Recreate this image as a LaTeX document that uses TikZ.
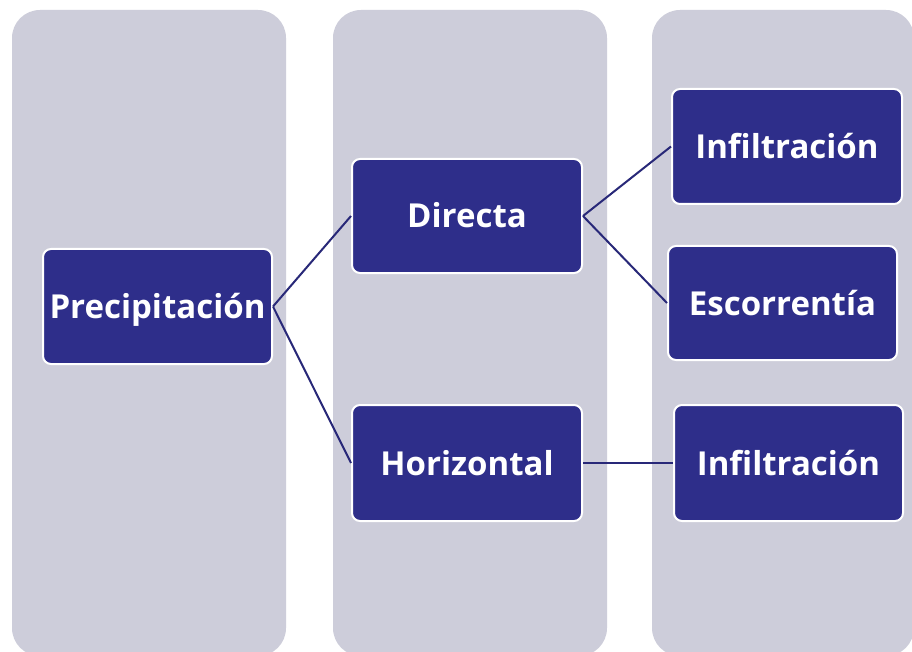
\documentclass[tikz,border=0pt]{standalone}
\usepackage{fontspec}
\setmainfont{Open Sans}
\definecolor{colbg}{RGB}{205,205,218}
\definecolor{boxfill}{RGB}{46,46,138}
\definecolor{linkc}{RGB}{40,40,120}
\tikzset{
  column/.style={fill=colbg, rounded corners=28pt},
  box/.style={fill=boxfill, draw=white, line width=2pt, rounded corners=8pt,
    minimum width=229pt, minimum height=115pt, text=white,
    font=\fontsize{33}{40}\selectfont\bfseries, text height=24pt, text depth=0pt,
    inner sep=0pt},
  link/.style={draw=linkc, line width=2pt}
}
\begin{document}
\begin{tikzpicture}[x=1pt,y=-1pt]
\useasboundingbox (0,0) rectangle (912,652);
\clip (0,0) rectangle (912,652);
\fill[white] (0,0) rectangle (912,652);
\fill[column] (12,10) rectangle (286,656);
\fill[column] (333,10) rectangle (607,656);
\fill[column] (652,10) rectangle (914,656);
\node[box] (p) at (157.5,306.5) {Precipitación};
\node[box, minimum width=230pt, minimum height=114pt] (d) at (467,216) {Directa};
\node[box, minimum width=230pt] (i1) at (787,146.5) {Infiltración};
\node[box, minimum height=114pt] (e) at (782.5,303) {Escorrentía};
\node[box, minimum width=230pt, minimum height=116pt] (h) at (467,463) {Horizontal};
\node[box, minimum height=116pt] (i2) at (788.5,463) {Infiltración};
\draw[link] (p.east) -- (d.west);
\draw[link] (p.east) -- (h.west);
\draw[link] (d.east) -- (i1.west);
\draw[link] (d.east) -- (e.west);
\draw[link] (h.east) -- (i2.west);
\end{tikzpicture}
\end{document}
